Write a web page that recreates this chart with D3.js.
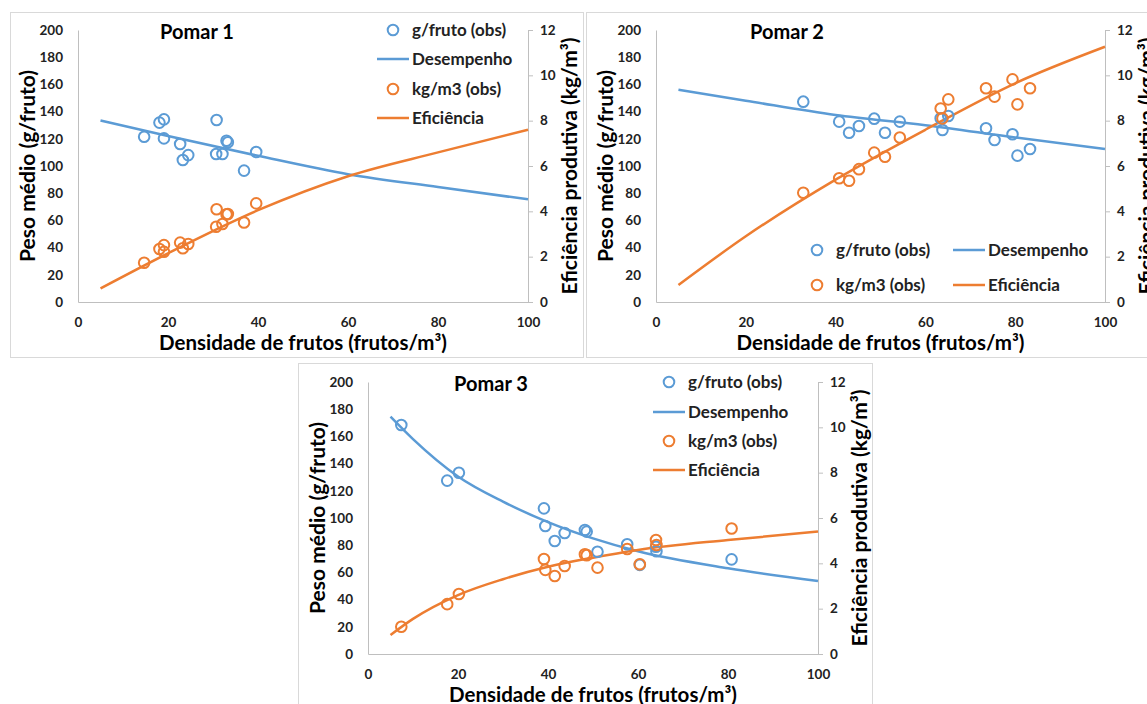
<!DOCTYPE html>
<html>
<head>
<meta charset="utf-8">
<script src="https://cdn.jsdelivr.net/npm/d3@7"></script>
<style>
   body { margin: 0; background: #fff; }
   text { font-family: Lato, "Open Sans", sans-serif; }
</style>
</head>
<body>
<svg id="chart" width="1147" height="704"></svg>
<script>
// observed values per orchard (density in frutos/m3, weight in g/fruto, yield in kg/m3)
var pomar1Density = [14.7, 18.1, 19.1, 19.1, 22.7, 23.3, 24.5, 30.8, 30.7, 32.1, 33.0, 33.3, 36.9, 39.6]
var pomar1Weight = [121.5, 131.9, 134.3, 120.3, 116.2, 104.4, 108.0, 133.8, 108.8, 108.8, 118.6, 117.5, 96.6, 110.3]
var pomar1Yield = [1.73, 2.34, 2.51, 2.22, 2.62, 2.37, 2.56, 4.09, 3.32, 3.44, 3.87, 3.88, 3.51, 4.35]

var pomar2Density = [32.8, 40.8, 43.0, 45.2, 48.6, 51.0, 54.3, 63.4, 65.1, 63.8, 73.5, 75.4, 79.4, 80.5, 83.3]
var pomar2Weight = [147.3, 132.6, 124.5, 129.4, 134.8, 124.5, 132.6, 135.1, 136.8, 126.5, 127.7, 119.1, 123.3, 107.6, 112.5]
var pomar2Yield = [4.82, 5.46, 5.35, 5.86, 6.59, 6.41, 7.26, 8.54, 8.94, 8.10, 9.43, 9.06, 9.82, 8.72, 9.43]

var pomar3Density = [7.4, 17.6, 20.2, 39.1, 39.4, 41.5, 43.7, 48.2, 48.6, 51.0, 57.6, 60.4, 64.0, 64.1, 80.8]
var pomar3Weight = [168.4, 127.5, 133.3, 107.1, 94.1, 83.1, 89.0, 91.2, 90.0, 75.2, 80.7, 65.5, 78.9, 75.5, 69.6]
var pomar3Yield = [1.20, 2.20, 2.65, 4.19, 3.71, 3.44, 3.88, 4.40, 4.36, 3.81, 4.63, 3.96, 5.03, 4.81, 5.54]

// fitted curves
var pomar1FitX = [5, 20, 40, 60, 80, 100]
var pomar1WeightFit = [133.5, 122, 107.5, 94, 84.5, 75.5]
var pomar1YieldFit = [0.6, 2.15, 4.05, 5.55, 6.6, 7.6]

var pomar2FitX = [5, 20, 40, 60, 80, 100]
var pomar2WeightFit = [156, 148, 137.5, 130, 121, 112.5]
var pomar2YieldFit = [0.75, 2.9, 5.4, 7.6, 9.65, 11.26]

var pomar3FitX = [5, 10, 20, 30, 40, 50, 60, 80, 100]
var pomar3WeightFit = [174.5, 158, 130.5, 112, 97, 85, 75.5, 63, 53.7]
var pomar3YieldFit = [0.84, 1.55, 2.6, 3.3, 3.85, 4.25, 4.59, 5.03, 5.4]

var xTicks = [0, 20, 40, 60, 80, 100]
var leftTicks = [0, 20, 40, 60, 80, 100, 120, 140, 160, 180, 200]
var rightTicks = [0, 2, 4, 6, 8, 10, 12]
var legendLabels = ["g/fruto (obs)", "Desempenho", "kg/m3 (obs)", "Eficiência"]

var blue = "#5B9BD5"
var orange = "#ED7D31"
var svg = d3.select("#chart")

function drawPomar(cfg) {
   var frame = svg.append("g")
   frame.append("rect")
      .attr("x", cfg.frame[0] + 0.5)
      .attr("y", cfg.frame[1] + 0.5)
      .attr("width", cfg.frame[2])
      .attr("height", cfg.frame[3])
      .attr("fill", "#fff")
      .attr("stroke", "#D9D9D9")

   var xScale = d3.scaleLinear().domain([0, 100]).range([cfg.left, cfg.right])
   var yLeft = d3.scaleLinear().domain([0, 200]).range([cfg.bottom, cfg.top])
   var yRight = d3.scaleLinear().domain([0, 12]).range([cfg.bottom, cfg.top])

   var g = svg.append("g")

   var xAxis = d3.axisBottom(xScale).tickValues(xTicks).tickSize(0).tickPadding(15)
   var leftAxis = d3.axisLeft(yLeft).tickValues(leftTicks).tickSize(0).tickPadding(15)
   var rightAxis = d3.axisRight(yRight).tickValues(rightTicks).tickSizeInner(5).tickSizeOuter(0).tickPadding(7)

   g.append("g").attr("class", "ax")
      .attr("transform", "translate(0," + cfg.bottom + ")")
      .call(xAxis)
   g.append("g").attr("class", "ax")
      .attr("transform", "translate(" + cfg.left + ",0)")
      .call(leftAxis)
   g.append("g").attr("class", "ax")
      .attr("transform", "translate(" + cfg.right + ",0)")
      .call(rightAxis)

   g.selectAll(".ax path").attr("stroke", "#BFBFBF")
   g.selectAll(".ax line").attr("stroke", "#BFBFBF")
   g.selectAll(".ax text")
      .attr("font-family", "Lato, sans-serif")
      .attr("font-size", 13.5)
      .attr("font-weight", "bold")
      .attr("fill", "#222")

   // axis titles
   g.append("text")
      .attr("x", (cfg.left + cfg.right) / 2)
      .attr("y", cfg.bottom + 48)
      .attr("text-anchor", "middle")
      .attr("font-size", 20.5)
      .attr("font-weight", "bold")
      .text("Densidade de frutos (frutos/m³)")
   g.append("text")
      .attr("transform", "translate(" + (cfg.left - 43) + "," + (cfg.top + cfg.bottom) / 2 + ") rotate(-90)")
      .attr("text-anchor", "middle")
      .attr("font-size", 21)
      .attr("font-weight", "bold")
      .text("Peso médio (g/fruto)")
   g.append("text")
      .attr("transform", "translate(" + (cfg.right + 49) + "," + (cfg.top + cfg.bottom) / 2 + ") rotate(-90)")
      .attr("text-anchor", "middle")
      .attr("font-size", 21)
      .attr("font-weight", "bold")
      .text("Eficiência produtiva (kg/m³)")

   g.append("text")
      .attr("x", cfg.titleX)
      .attr("y", cfg.top + 9)
      .attr("text-anchor", "middle")
      .attr("font-size", 20)
      .attr("font-weight", "bold")
      .text(cfg.title)

   var weightLine = d3.line()
      .x((d, i) => xScale(cfg.fitX[i]))
      .y(d => yLeft(d))
      .curve(d3.curveMonotoneX)
   var yieldLine = d3.line()
      .x((d, i) => xScale(cfg.fitX[i]))
      .y(d => yRight(d))
      .curve(d3.curveMonotoneX)

   g.append("path")
      .attr("d", weightLine(cfg.weightFit))
      .attr("fill", "none")
      .attr("stroke", blue)
      .attr("stroke-width", 2.5)
   g.append("path")
      .attr("d", yieldLine(cfg.yieldFit))
      .attr("fill", "none")
      .attr("stroke", orange)
      .attr("stroke-width", 2.5)

   g.selectAll(".wpt")
      .data(cfg.weight)
      .join("circle")
      .attr("cx", (d, i) => xScale(cfg.density[i]))
      .attr("cy", d => yLeft(d))
      .attr("r", 5.3)
      .attr("fill", "none")
      .attr("stroke", blue)
      .attr("stroke-width", 2)
   g.selectAll(".ypt")
      .data(cfg.yield)
      .join("circle")
      .attr("cx", (d, i) => xScale(cfg.density[i]))
      .attr("cy", d => yRight(d))
      .attr("r", 5.3)
      .attr("fill", "none")
      .attr("stroke", orange)
      .attr("stroke-width", 2)

   // legend
   var colors = [blue, blue, orange, orange]
   legendLabels.forEach(function(label, i) {
      var pos = cfg.legend[i]
      var item = g.append("g").attr("transform", "translate(" + pos[0] + "," + pos[1] + ")")
      if (i % 2 == 0) {
         item.append("circle")
            .attr("cx", 16)
            .attr("cy", 0)
            .attr("r", 5.3)
            .attr("fill", "none")
            .attr("stroke", colors[i])
            .attr("stroke-width", 2)
      } else {
         item.append("line")
            .attr("x1", 0)
            .attr("x2", 32)
            .attr("stroke", colors[i])
            .attr("stroke-width", 2.5)
      }
      item.append("text")
         .attr("x", 35)
         .attr("dy", "0.35em")
         .attr("font-size", 17)
         .attr("font-weight", "bold")
         .attr("fill", "#222")
         .text(label)
   })
}

drawPomar({
   frame: [10, 12, 573, 345], left: 78, right: 528, top: 30, bottom: 302,
   title: "Pomar 1", titleX: 197,
   density: pomar1Density, weight: pomar1Weight, yield: pomar1Yield,
   fitX: pomar1FitX, weightFit: pomar1WeightFit, yieldFit: pomar1YieldFit,
   legend: [[377, 30], [377, 59], [377, 89], [377, 118]]
})

drawPomar({
   frame: [586, 12, 580, 345], left: 656, right: 1105, top: 30, bottom: 302,
   title: "Pomar 2", titleX: 787,
   density: pomar2Density, weight: pomar2Weight, yield: pomar2Yield,
   fitX: pomar2FitX, weightFit: pomar2WeightFit, yieldFit: pomar2YieldFit,
   legend: [[801, 250], [953, 250], [801, 285], [953, 285]]
})

drawPomar({
   frame: [298, 363, 574, 360], left: 368, right: 818, top: 382, bottom: 654,
   title: "Pomar 3", titleX: 491,
   density: pomar3Density, weight: pomar3Weight, yield: pomar3Yield,
   fitX: pomar3FitX, weightFit: pomar3WeightFit, yieldFit: pomar3YieldFit,
   legend: [[653, 382], [653, 412], [653, 441], [653, 470]]
})
</script>
</body>
</html>
